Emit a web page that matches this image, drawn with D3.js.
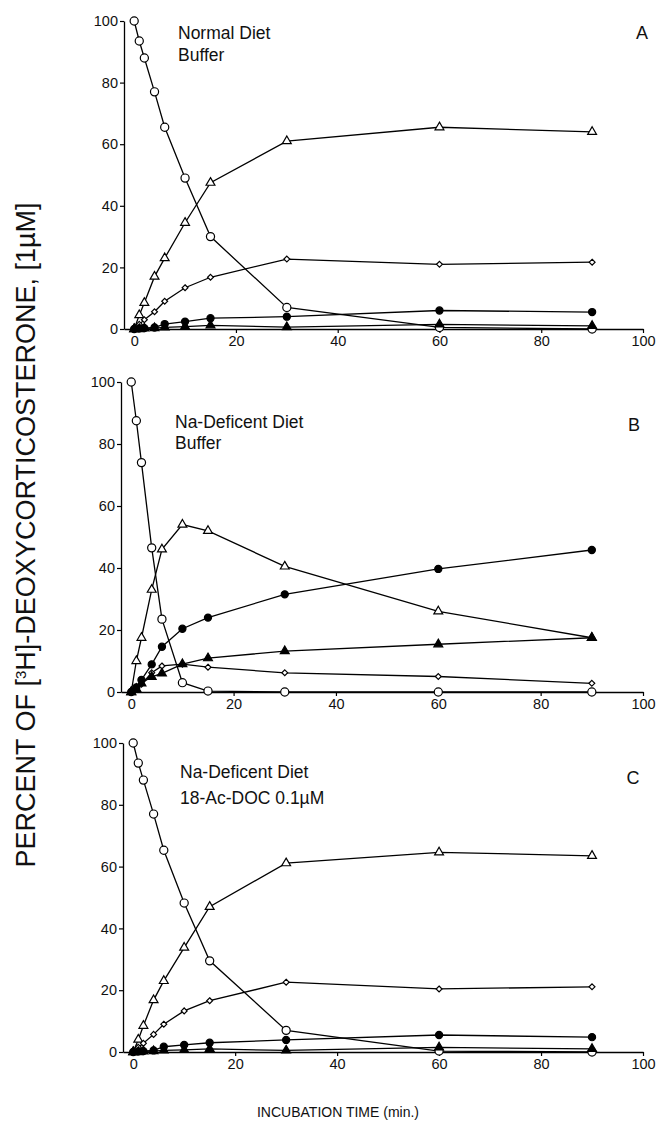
<!DOCTYPE html>
<html>
<head>
<meta charset="utf-8">
<script src="https://cdn.jsdelivr.net/npm/d3@7"></script>
<style>
  body { margin: 0; background: #fff; }
  svg { display: block; font-family: "Liberation Sans", Arial, sans-serif; }
</style>
</head>
<body>
<svg id="svg"></svg>
<script>
////////////////////////////////////////////////////////////////////////
// Data (percent of 1uM [3H]-DOC)

let times = [0, 1, 2, 4, 6, 10, 15, 30, 60, 90];
let xTicks = [0, 20, 40, 60, 80, 100];
let yTicks = [0, 20, 40, 60, 80, 100];

let panelLetters = ["A", "B", "C"];
let panelTitles = [
  ["Normal Diet", "Buffer"],
  ["Na-Deficent Diet", "Buffer"],
  ["Na-Deficent Diet", "18-Ac-DOC 0.1\u00b5M"]
];

// panel A
let openCircleA = [100, 93.5, 88, 77, 65.5, 49, 30, 7, 0.5, 0];
let openTriA    = [0, 4.5, 8.5, 17, 23, 34.5, 47.5, 61, 65.5, 64];
let diamondA    = [0, 1.5, 3, 5.6, 9, 13.4, 16.8, 22.7, 21, 21.7];
let fillCircleA = [0, 0.2, 0.3, 0.5, 1.6, 2.4, 3.5, 4, 6, 5.5];
let fillTriA    = [0, 0, 0.2, 0.3, 0.5, 0.8, 1.2, 0.6, 1.5, 1];

// panel B
let openCircleB = [100, 87.5, 74, 46.5, 23.5, 3, 0.3, 0, 0, 0];
let openTriB    = [0, 10, 17.5, 33, 46, 54, 52, 40.5, 26, 17.5];
let diamondB    = [0, 1, 2.5, 6.2, 8.4, 9, 8, 6.2, 5, 2.8];
let fillCircleB = [0, 1.5, 3.9, 8.9, 14.6, 20.4, 24, 31.5, 39.7, 45.8];
let fillTriB    = [0, 1, 2.8, 4.9, 6, 9, 10.9, 13.2, 15.4, 17.5];

// panel C
let openCircleC = [100, 93.5, 88, 77, 65.3, 48.2, 29.5, 7, 0.3, 0];
let openTriC    = [0, 4, 8.5, 16.8, 23, 33.8, 47, 61.1, 64.6, 63.5];
let diamondC    = [0, 1.5, 2.8, 5.7, 9, 13.3, 16.6, 22.6, 20.4, 21.1];
let fillCircleC = [0, 0.2, 0.3, 0.5, 1.7, 2.3, 3, 3.9, 5.5, 4.8];
let fillTriC    = [0, 0, 0.2, 0.3, 0.5, 0.7, 1, 0.5, 1.5, 1];

let panelSeries = [
  [openCircleA, openTriA, diamondA, fillCircleA, fillTriA],
  [openCircleB, openTriB, diamondB, fillCircleB, fillTriB],
  [openCircleC, openTriC, diamondC, fillCircleC, fillTriC]
];

// marker style for each of the five series (same order in every panel)
let markerStyles = [
  { type: d3.symbolCircle,   size: 52, fill: "#fff" },
  { type: d3.symbolTriangle, size: 34, fill: "#fff" },
  { type: d3.symbolDiamond2, size: 22, fill: "#fff" },
  { type: d3.symbolCircle,   size: 40, fill: "#000" },
  { type: d3.symbolTriangle, size: 34, fill: "#000" }
];

////////////////////////////////////////////////////////////////////////
// Layout

let winWidth = 664, winHeight = 1138;
let svg = d3.select("#svg").attr("width", winWidth).attr("height", winHeight);

// top (y=100) and bottom (y=0) pixel of each panel, small x shift per panel,
// and where the two-line title and the panel letter sit
let panelBox = [
  { top: 21,  bottom: 329,  dx: 0,  titleX: 178, titleY: 39,  titleGap: 22, letterX: 642, letterY: 39 },
  { top: 382, bottom: 692,  dx: -3, titleX: 175, titleY: 428, titleGap: 21, letterX: 634, letterY: 431 },
  { top: 743, bottom: 1052, dx: -1, titleX: 180, titleY: 778, titleGap: 26, letterX: 633, letterY: 784 }
];

let font = "\"Liberation Sans\", Arial, sans-serif";

function drawPanel(p) {
  let box = panelBox[p];
  let x = d3.scaleLinear().domain([-2, 100]).range([124 + box.dx, 643]);
  let y = d3.scaleLinear().domain([0, 100]).range([box.bottom, box.top]);
  let g = svg.append("g");

  // axes
  let xAxis = g.append("g")
    .attr("transform", "translate(0," + box.bottom + ")")
    .call(d3.axisBottom(x).tickValues(xTicks).tickSize(4).tickPadding(3).tickSizeOuter(0));
  let yAxis = g.append("g")
    .attr("transform", "translate(" + x(-2) + ",0)")
    .call(d3.axisLeft(y).tickValues(yTicks).tickSize(4).tickPadding(2).tickSizeOuter(0));

  [xAxis, yAxis].forEach(function(a) {
    a.select(".domain").attr("stroke", "#000").attr("stroke-width", 1.3);
    a.selectAll(".tick line").attr("stroke", "#000").attr("stroke-width", 1.2);
    a.selectAll(".tick text")
     .attr("fill", "#111")
     .style("font-family", font)
     .style("font-size", "14.5px");
  });

  // lines
  let line = d3.line()
    .x(function(d, i) { return x(times[i]); })
    .y(function(d) { return y(d); });

  panelSeries[p].forEach(function(vals) {
    g.append("path")
     .attr("d", line(vals))
     .attr("fill", "none")
     .attr("stroke", "#000")
     .attr("stroke-width", 1.3);
  });

  // markers
  panelSeries[p].forEach(function(vals, s) {
    let st = markerStyles[s];
    g.selectAll(null)
     .data(vals)
     .enter()
     .append("path")
     .attr("d", d3.symbol().type(st.type).size(st.size))
     .attr("transform", function(d, i) { return "translate(" + x(times[i]) + "," + y(d) + ")"; })
     .attr("fill", st.fill)
     .attr("stroke", "#000")
     .attr("stroke-width", 1.2);
  });

  // panel titles
  let title = g.append("text")
    .attr("x", box.titleX)
    .attr("y", box.titleY)
    .style("font-family", font)
    .style("font-size", "17.5px")
    .attr("fill", "#111");
  title.append("tspan").text(panelTitles[p][0]);
  title.append("tspan").attr("x", box.titleX).attr("dy", box.titleGap).text(panelTitles[p][1]);

  // panel letter
  g.append("text")
    .attr("x", box.letterX)
    .attr("y", box.letterY)
    .attr("text-anchor", "middle")
    .style("font-family", font)
    .style("font-size", "18px")
    .attr("fill", "#111")
    .text(panelLetters[p]);
}

for (let p = 0; p < 3; ++p) drawPanel(p);

// y axis title
let yTitle = svg.append("text")
  .attr("transform", "translate(35,535) rotate(-90)")
  .attr("text-anchor", "middle")
  .style("font-family", font)
  .style("font-size", "27px")
  .attr("fill", "#111");
yTitle.append("tspan").text("PERCENT OF [");
yTitle.append("tspan").attr("dy", -9).style("font-size", "15px").text("3");
yTitle.append("tspan").attr("dy", 9).text("H]-DEOXYCORTICOSTERONE, [1\u00b5M]");

// x axis title
svg.append("text")
  .attr("x", 338)
  .attr("y", 1117)
  .attr("text-anchor", "middle")
  .style("font-family", font)
  .style("font-size", "14px")
  .attr("fill", "#111")
  .text("INCUBATION TIME (min.)");
</script>
</body>
</html>
